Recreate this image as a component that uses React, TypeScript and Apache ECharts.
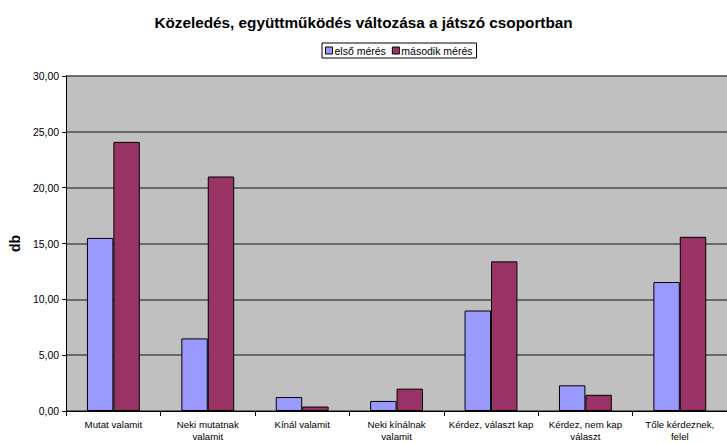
import React, { useEffect, useRef } from "react";
import * as echarts from "echarts";

const title = "Közeledés, együttműködés változása a játszó csoportban";
const categories = [
  "Mutat valamit",
  "Neki mutatnak\nvalamit",
  "Kínál valamit",
  "Neki kínálnak\nvalamit",
  "Kérdez, választ kap",
  "Kérdez, nem kap\nválaszt",
  "Tőle kérdeznek,\nfelel",
];
const seriesNames = ["első mérés", "második mérés"];
const firstValues = [15.5, 6.5, 1.25, 0.9, 9.0, 2.3, 11.55];
const secondValues = [24.1, 21.0, 0.4, 2.0, 13.4, 1.45, 15.6];
const yTicks = { min: 0, max: 30, interval: 5 };

export default function App() {
  const ref = useRef<HTMLDivElement>(null);
  useEffect(() => {
    document.body.style.margin = "0";
    const chart = echarts.init(ref.current!, null, { renderer: "svg" });
    const font = "Liberation Sans, Arial, sans-serif";
    chart.setOption({
      animation: false,
      backgroundColor: "#ffffff",
      textStyle: { fontFamily: font },
      title: {
        text: title,
        left: "center",
        top: 10,
        textStyle: { fontSize: 15.3, fontWeight: "bold", color: "#000", fontFamily: font },
      },
      legend: {
        top: 43,
        left: 322,
        data: seriesNames,
        icon: "rect",
        itemWidth: 7,
        itemHeight: 7,
        itemGap: 6,
        padding: [2, 4, 2, 3],
        borderColor: "#000",
        borderWidth: 1,
        itemStyle: { borderColor: "#000", borderWidth: 1 },
        textStyle: { fontSize: 10.5, color: "#000", fontFamily: font, padding: [0, 0, 0, -3] },
      },
      grid: { left: 63, top: 76, bottom: 33, right: -8 },
      xAxis: {
        type: "category",
        data: categories,
        axisLine: { lineStyle: { color: "#000", width: 1 } },
        axisTick: { show: true, length: 5, lineStyle: { color: "#000" } },
        axisLabel: { fontSize: 9.7, color: "#000", margin: 7, interval: 0, lineHeight: 12, fontFamily: font },
      },
      yAxis: {
        type: "value",
        min: yTicks.min,
        max: yTicks.max,
        interval: yTicks.interval,
        name: "db",
        nameLocation: "middle",
        nameGap: 33,
        nameRotate: 90,
        nameTextStyle: { fontSize: 14, fontWeight: "bold", color: "#000", fontFamily: font },
        axisLine: { show: true, lineStyle: { color: "#000", width: 1 } },
        axisTick: { show: true, length: 4, lineStyle: { color: "#000" } },
        axisLabel: {
          fontSize: 10.5,
          color: "#000",
          margin: 7,
          fontFamily: font,
          formatter: (v: number) => v.toFixed(2).replace(".", ","),
        },
        splitLine: { show: true, lineStyle: { color: "#4a4a4a", width: 1.5 } },
        splitArea: { show: true, areaStyle: { color: ["#C0C0C0", "#C0C0C0"] } },
      },
      series: [
        {
          name: seriesNames[0],
          type: "bar",
          data: firstValues,
          barGap: "0%",
          barCategoryGap: "44%",
          itemStyle: { color: "#9999FF", borderColor: "#000", borderWidth: 1 },
        },
        {
          name: seriesNames[1],
          type: "bar",
          data: secondValues,
          itemStyle: { color: "#993366", borderColor: "#000", borderWidth: 1 },
        },
      ],
    });
    return () => chart.dispose();
  }, []);
  return <div ref={ref} style={{ width: 727, height: 444 }} />;
}
